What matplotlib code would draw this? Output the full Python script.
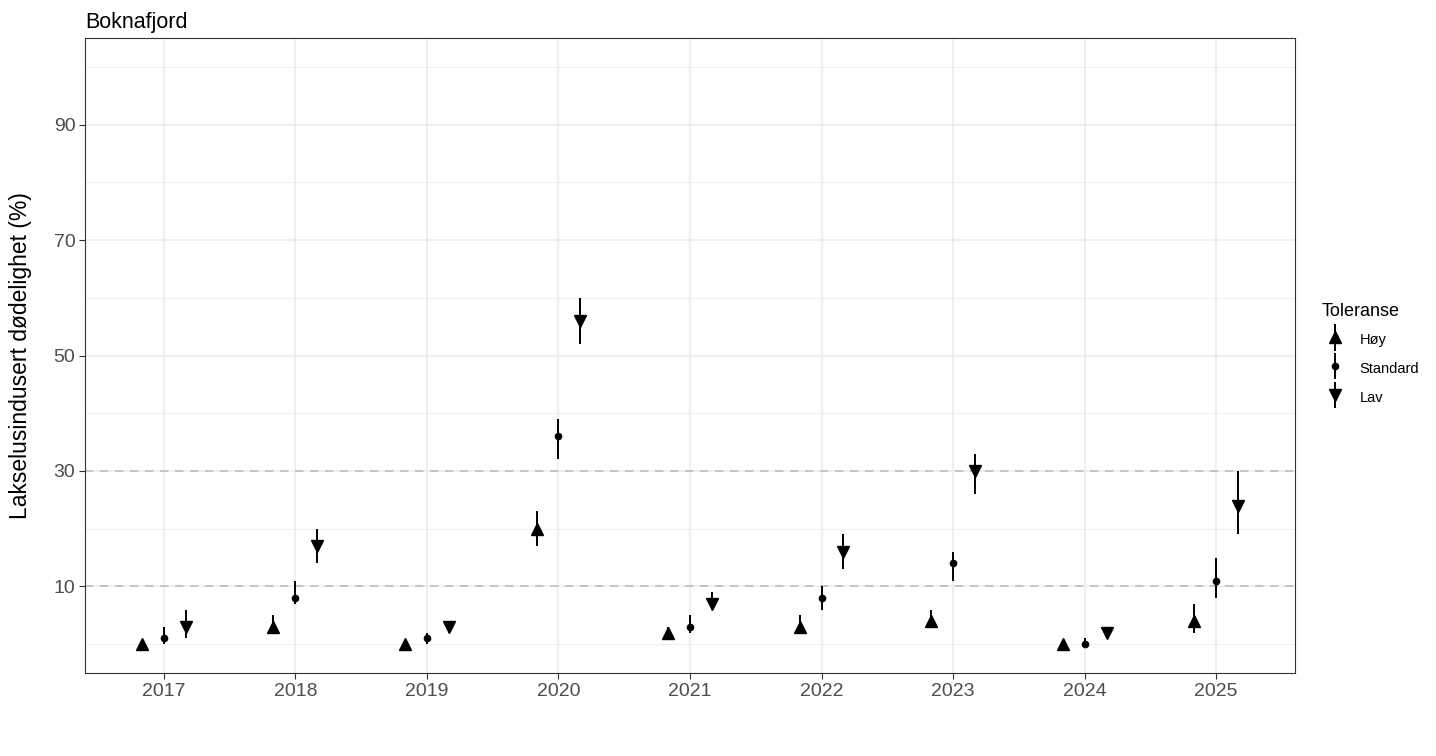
import matplotlib.pyplot as plt
import numpy as np
from matplotlib.legend_handler import HandlerErrorbar

plt.rcParams['font.family'] = ['Liberation Sans', 'DejaVu Sans']

years = [2017, 2018, 2019, 2020, 2021, 2022, 2023, 2024, 2025]
groups = ["Høy", "Standard", "Lav"]

hoy = [0, 3, 0, 20, 2, 3, 4, 0, 4]
hoy_lo = [0, 2, 0, 17, 1, 2, 3, 0, 2]
hoy_hi = [0, 5, 0, 23, 3, 5, 6, 0, 7]

std = [1, 8, 1, 36, 3, 8, 14, 0, 11]
std_lo = [0, 7, 0, 32, 2, 6, 11, 0, 8]
std_hi = [3, 11, 2, 39, 5, 10, 16, 1, 15]

lav = [3, 17, 3, 56, 7, 16, 30, 2, 24]
lav_lo = [1, 14, 2, 52, 6, 13, 26, 1, 19]
lav_hi = [6, 20, 3, 60, 9, 19, 33, 3, 30]

fig = plt.figure(figsize=(14.36, 7.56), dpi=100)
ax = fig.add_axes([85/1436, 83/756, 1210/1436, 635/756])

x = np.array(years, dtype=float)
series = [
    (hoy, hoy_lo, hoy_hi, -0.167, '^', 9),
    (std, std_lo, std_hi, 0.0, 'o', 4.5),
    (lav, lav_lo, lav_hi, 0.167, 'v', 9),
]
handles = []
for (v, lo, hi, off, mk, ms), name in zip(series, groups):
    v = np.array(v, float)
    err = [v - np.array(lo, float), np.array(hi, float) - v]
    h = ax.errorbar(x + off, v, yerr=err, fmt=mk, color='black', ms=ms,
                    elinewidth=1.4, capsize=0, label=name, zorder=3)
    handles.append(h)

for yv in [10, 30]:
    ax.axhline(yv, color='#BDBDBD', lw=1.2, ls=(0, (5, 4)), zorder=2)

ax.set_xlim(2016.4, 2025.6)
ax.set_ylim(-5, 105)
ax.set_xticks(years)
ax.set_xticklabels([str(y) for y in years], fontsize=14, color='#4D4D4D')
ax.set_yticks([10, 30, 50, 70, 90])
ax.set_yticks([0, 20, 40, 60, 80, 100], minor=True)
ax.tick_params(axis='y', which='major', labelsize=14, labelcolor='#4D4D4D',
               color='#333333', length=4, pad=3)
ax.tick_params(axis='y', which='minor', length=0)
ax.tick_params(axis='x', color='#333333', length=4, pad=3)
ax.grid(True, which='major', color='#EBEBEB', lw=1.1, zorder=0)
ax.grid(True, which='minor', axis='y', color='#EBEBEB', lw=0.6, zorder=0)
ax.set_axisbelow(True)
for s in ax.spines.values():
    s.set_color('#333333')
    s.set_linewidth(0.8)

ax.set_ylabel("Lakselusindusert dødelighet (%)", fontsize=16.5)
ax.yaxis.set_label_coords(-53/1210, 0.5)
ax.set_title("Boknafjord", loc='left', fontsize=15.5, pad=7)

leg = fig.legend(handles=handles, labels=groups, title="Toleranse",
                 loc='upper left', bbox_to_anchor=(1309/1436, 1 - 290/756),
                 frameon=False, fontsize=10.5, title_fontsize=13,
                 handlelength=1.8, handleheight=1.6, handletextpad=0.75,
                 labelspacing=0.7,
                 handler_map={type(handles[0]): HandlerErrorbar(yerr_size=0.9)})
leg._legend_box.align = 'left'

fig.savefig('out.png', dpi=100)
